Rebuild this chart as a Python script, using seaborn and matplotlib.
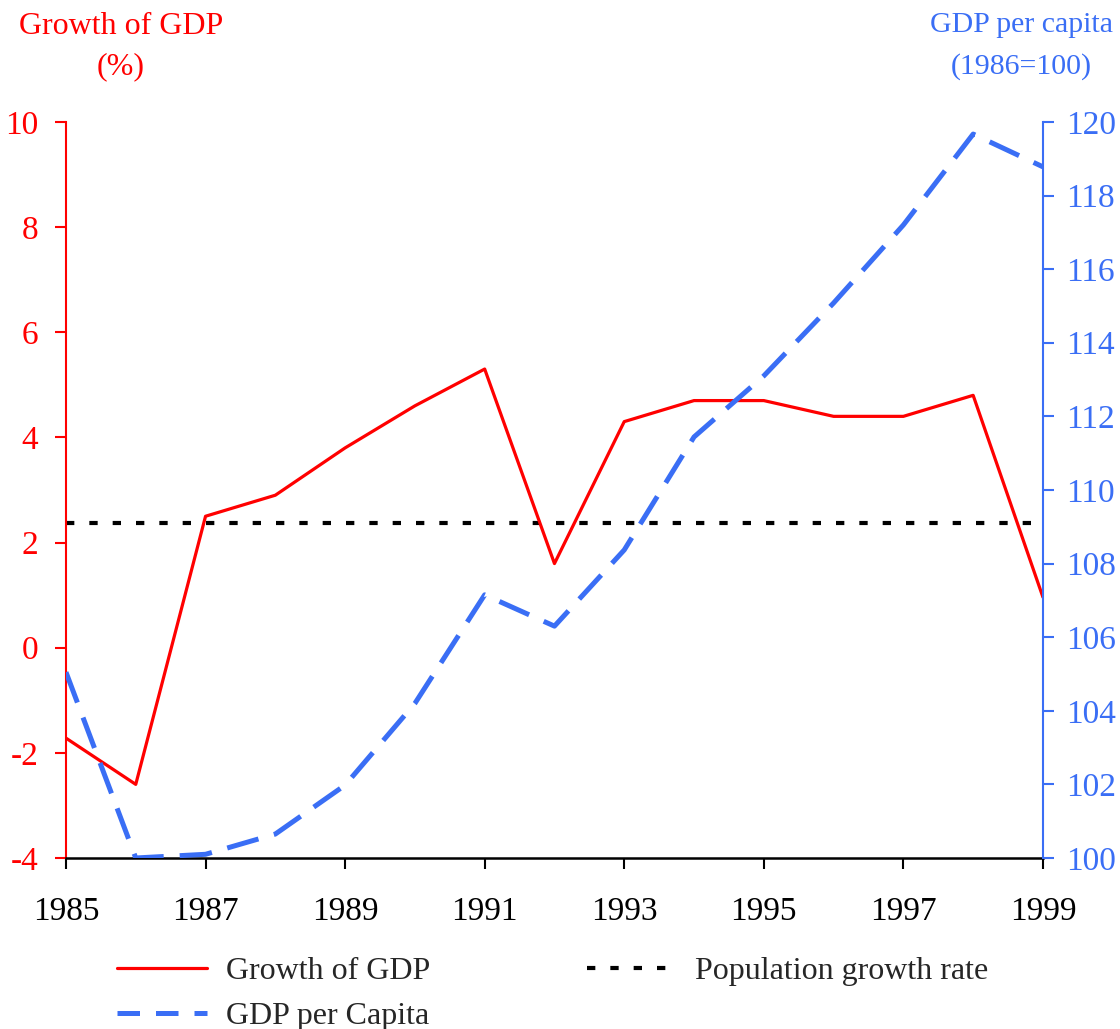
import numpy as np
import pandas as pd
import matplotlib
matplotlib.use('Agg')
import matplotlib.pyplot as plt
import seaborn as sns
from matplotlib.lines import Line2D

years = list(range(1985, 2000))
gdp_growth = [-1.72, -2.6, 2.5, 2.9, 3.8, 4.6, 5.3, 1.6, 4.3, 4.7, 4.7, 4.4, 4.4, 4.8, 0.96]
gdp_per_capita = [105.05, 100.0, 100.1, 100.65, 101.98, 104.2, 107.15, 106.3, 108.37,
                  111.44, 113.1, 115.08, 117.2, 119.67, 118.78]
pop_growth = [2.38] * len(years)

RED = '#ff0000'
BLUE = '#3a6ef5'

df = pd.DataFrame({'year': years, 'gdp': gdp_growth, 'pc': gdp_per_capita, 'pop': pop_growth})

sns.set_style('white')
plt.rcParams['font.family'] = ['Liberation Serif', 'DejaVu Serif']
plt.rcParams['font.size'] = 24
plt.rcParams['axes.unicode_minus'] = False

fig = plt.figure(figsize=(11.2, 10.29), dpi=100)
ax = fig.add_axes([0.0589, 0.1662, 0.8723, 0.7153])
ax2 = ax.twinx()

# population growth rate (dotted), GDP growth (red), GDP per capita (blue, right axis)
sns.lineplot(x='year', y='pop', data=df, ax=ax, color='black', lw=3)
ax.lines[-1].set_dashes((2, 3.6))
sns.lineplot(x='year', y='gdp', data=df, ax=ax, color=RED, lw=2.3)
sns.lineplot(x='year', y='pc', data=df, ax=ax2, color=BLUE, lw=3.6)
ax2.lines[-1].set_dashes((6.5, 3.2))

ax.set_xlim(1985, 1999)
ax.set_ylim(-4, 10)
ax2.set_ylim(100, 120)
ax.set_xticks(range(1985, 2000, 2))
ax.set_yticks(range(-4, 11, 2))
ax2.set_yticks(range(100, 121, 2))
ax.set_xlabel('')
ax.set_ylabel('')
ax2.set_ylabel('')

for a in (ax, ax2):
    a.spines['top'].set_visible(False)
    a.grid(False)
ax.spines['left'].set_color(RED)
ax.spines['left'].set_linewidth(1.5)
ax.spines['right'].set_visible(False)
ax.spines['bottom'].set_color('black')
ax.spines['bottom'].set_linewidth(1.8)
ax2.spines['left'].set_visible(False)
ax2.spines['bottom'].set_visible(False)
ax2.spines['right'].set_color(BLUE)
ax2.spines['right'].set_linewidth(1.5)

ax.tick_params(axis='x', direction='out', length=8, width=1.5, colors='black',
               labelsize=24, pad=20, bottom=True)
ax.tick_params(axis='y', direction='out', length=8, width=1.5, colors=RED,
               labelsize=24, pad=12, left=True)
ax2.tick_params(axis='y', direction='out', length=8, width=1.5, colors=BLUE,
                labelsize=24, pad=9, right=True)

fig.text(0.108, 0.988, 'Growth of GDP\n(%)', color=RED, fontsize=23, ha='center',
         va='top', multialignment='center', linespacing=1.5)
fig.text(0.912, 0.988, 'GDP per capita\n(1986=100)', color=BLUE, fontsize=21.5, ha='center',
         va='top', multialignment='center', linespacing=1.7)

handles = [Line2D([0], [0], color=RED, lw=2.3),
           Line2D([0], [0], color=BLUE, lw=3.6, dashes=(4.5, 3.2)),
           Line2D([0], [0], color='black', lw=3, dashes=(2, 3.6))]
labels = ['Growth of GDP', 'GDP per Capita', 'Population growth rate']
fig.legend(handles, labels, ncol=2, loc='lower left', bbox_to_anchor=(0.079, -0.03),
           frameon=False, fontsize=23, handlelength=2.8, handletextpad=0.6,
           columnspacing=4.9, labelspacing=0.5)

fig.savefig('out.png', dpi=100)
